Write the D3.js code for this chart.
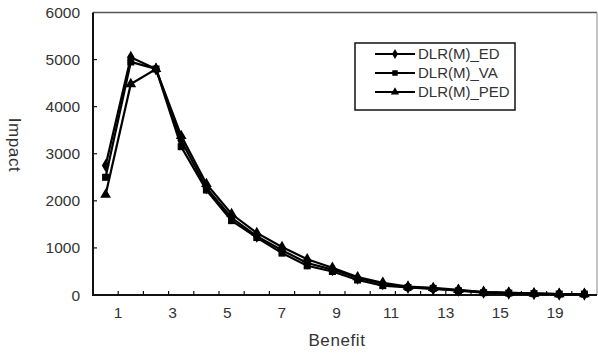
<!DOCTYPE html>
<html>
<head>
<meta charset="utf-8">
<script src="https://cdn.jsdelivr.net/npm/d3@7"></script>
<style>
  html, body { margin: 0; padding: 0; background: #fff; }
  svg { display: block; font-family: "Liberation Sans", Arial, sans-serif; }
</style>
</head>
<body>
<svg id="chart" width="598" height="354"></svg>
<script>
// ---- data ----
const categories = d3.range(1, 21);
const seriesNames = ["DLR(M)_ED", "DLR(M)_VA", "DLR(M)_PED"];
const edValues  = [2750, 5050, 4800, 3280, 2280, 1640, 1250, 950, 680, 540, 360, 240, 160, 130, 100, 60, 40, 30, 20, 20];
const vaValues  = [2500, 4950, 4800, 3150, 2230, 1580, 1220, 890, 620, 500, 320, 200, 160, 140, 90, 50, 40, 30, 20, 20];
const pedValues = [2130, 4480, 4800, 3380, 2360, 1720, 1320, 1020, 760, 580, 380, 260, 180, 150, 110, 60, 50, 30, 20, 20];
const xTickLabels = ["1", "3", "5", "7", "9", "11", "13", "15", "19"];
const yTicks = [0, 1000, 2000, 3000, 4000, 5000, 6000];
const markerTypes = [d3.symbolDiamond, d3.symbolSquare, d3.symbolTriangle];
const markerSizes = [50, 50, 50];

const series = [edValues, vaValues, pedValues].map((vals, i) => ({
  name: seriesNames[i], values: vals, symbol: markerTypes[i], size: markerSizes[i]
}));

// ---- layout ----
const svg = d3.select("#chart");
const pLeft = 93, pRight = 597, pTop = 12.5, pBottom = 295;

const x = d3.scaleBand().domain(categories).range([pLeft, pRight]).padding(0);
const y = d3.scaleLinear().domain([0, 6000]).range([pBottom, pTop]);
const xLab = d3.scalePoint().domain(xTickLabels).range([118, 555]);

// frame (top and right borders)
svg.append("line").attr("x1", pLeft).attr("x2", pRight).attr("y1", pTop).attr("y2", pTop)
  .attr("stroke", "#555").attr("stroke-width", 1.5);
svg.append("line").attr("x1", pRight).attr("x2", pRight).attr("y1", pTop).attr("y2", pBottom)
  .attr("stroke", "#999").attr("stroke-width", 1.2);

// y axis: ticks inward
const yAxis = svg.append("g").attr("transform", `translate(${pLeft},0)`);
yAxis.selectAll("line.tick").data(yTicks.filter(d => d > 0 && d < 6000)).enter().append("line")
  .attr("x1", 0).attr("x2", 4).attr("y1", d => y(d)).attr("y2", d => y(d))
  .attr("stroke", "#111").attr("stroke-width", 1.2);
yAxis.selectAll("text").data(yTicks).enter().append("text")
  .attr("x", -13).attr("y", d => y(d)).attr("dy", "0.36em")
  .attr("text-anchor", "end").attr("font-size", 15.5).attr("fill", "#333")
  .text(d => d);
yAxis.append("line").attr("x1", 0).attr("x2", 0).attr("y1", pTop).attr("y2", pBottom + 1)
  .attr("stroke", "#111").attr("stroke-width", 2);

// x axis: ticks at band edges, inward
const xAxis = svg.append("g");
xAxis.selectAll("line.tick").data(categories.slice(1)).enter().append("line")
  .attr("x1", d => x(d)).attr("x2", d => x(d)).attr("y1", pBottom).attr("y2", pBottom - 4)
  .attr("stroke", "#111").attr("stroke-width", 1.2);
xAxis.selectAll("text").data(xTickLabels).enter().append("text")
  .attr("x", d => xLab(d)).attr("y", 318)
  .attr("text-anchor", "middle").attr("font-size", 15.5).attr("fill", "#333")
  .text(d => d);
xAxis.append("line").attr("x1", pLeft - 1).attr("x2", pRight).attr("y1", pBottom).attr("y2", pBottom)
  .attr("stroke", "#111").attr("stroke-width", 2);

// axis titles
svg.append("text").attr("x", 337).attr("y", 346).attr("text-anchor", "middle")
  .attr("font-size", 17).attr("letter-spacing", 0.6).attr("fill", "#333").text("Benefit");
svg.append("text").attr("transform", "translate(9,145) rotate(90)")
  .attr("text-anchor", "middle").attr("font-size", 17).attr("letter-spacing", 0.6)
  .attr("fill", "#333").text("Impact");

// series
const cx = d => x(d) + x.bandwidth() / 2;
const line = d3.line().x((d, i) => cx(categories[i])).y(d => y(d));
const g = svg.append("g");
series.forEach(s => {
  g.append("path").attr("d", line(s.values)).attr("fill", "none")
    .attr("stroke", "#000").attr("stroke-width", 2.2);
});
series.forEach(s => {
  g.selectAll(null).data(s.values).enter().append("path")
    .attr("transform", (d, i) => `translate(${cx(categories[i])},${y(d)})`)
    .attr("d", d3.symbol().type(s.symbol).size(s.size))
    .attr("fill", "#000");
});

// legend
const lg = svg.append("g");
lg.append("rect").attr("x", 355).attr("y", 43).attr("width", 160).attr("height", 67)
  .attr("fill", "#fff").attr("stroke", "#111").attr("stroke-width", 1.5);
const legY = d3.scalePoint().domain(seriesNames).range([54, 92]);
series.forEach(s => {
  const yy = legY(s.name);
  lg.append("line").attr("x1", 375).attr("x2", 415).attr("y1", yy).attr("y2", yy)
    .attr("stroke", "#000").attr("stroke-width", 1.8);
  lg.append("path").attr("transform", `translate(395,${yy})`)
    .attr("d", d3.symbol().type(s.symbol).size(30)).attr("fill", "#000");
  lg.append("text").attr("x", 418).attr("y", yy).attr("dy", "0.36em")
    .attr("font-size", 15).attr("fill", "#333").text(s.name);
});
</script>
</body>
</html>
